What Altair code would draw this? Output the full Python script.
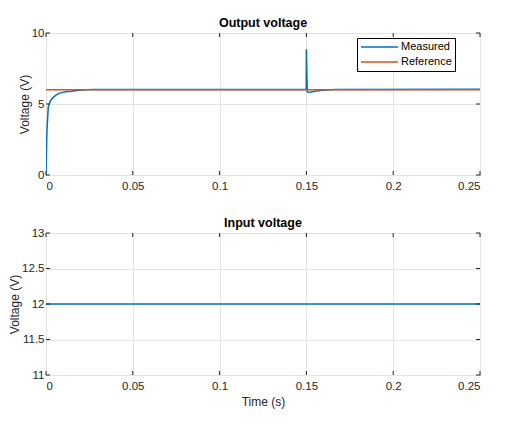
import altair as alt
import pandas as pd

t_meas = [0, 0.0005, 0.0013, 0.0025, 0.0036, 0.0055, 0.0075, 0.0095, 0.0113, 0.015,
          0.019, 0.023, 0.027, 0.1499, 0.15, 0.1505, 0.152, 0.155, 0.158, 0.162, 0.167, 0.25]
v_meas = [0, 3.0, 4.8, 5.2, 5.4, 5.6, 5.75, 5.82, 5.87, 5.9,
          5.97, 6.0, 6.02, 6.02, 8.85, 5.85, 5.83, 5.9, 5.95, 5.98, 6.02, 6.03]
# Reference voltage
t_ref = [0, 0.25]
v_ref = [6, 6]
# Input voltage
t_in = [0, 0.25]
v_in = [12, 12]

x_ticks = [0, 0.05, 0.1, 0.15, 0.2, 0.25]
y_ticks_out = [0, 5, 10]
y_ticks_in = [11, 11.5, 12, 12.5, 13]

series_names = ["Measured", "Reference"]
series_colors = ["#0072BD", "#D95319"]

df_out = pd.concat([
    pd.DataFrame({"t": t_meas, "v": v_meas, "series": "Measured", "order": 0}),
    pd.DataFrame({"t": t_ref, "v": v_ref, "series": "Reference", "order": 1}),
])
df_in = pd.DataFrame({"t": t_in, "v": v_in})

FONT = "Liberation Sans"
W, H = 434, 142
TICK = 4
TXT = "#262626"
LBL = 11.5
TTL = 12

def xaxis(title):
    kw = dict(values=x_ticks, format="~r", grid=True, tickSize=0, labelPadding=5,
              domain=False, labelFontSize=LBL, labelColor=TXT)
    if title:
        return alt.Axis(title=title, titleFontSize=TTL, titleFontWeight="normal",
                        titleColor=TXT, titlePadding=5, **kw)
    return alt.Axis(title=None, **kw)

def yaxis(vals):
    return alt.Axis(title="Voltage (V)", values=vals, format="~r", grid=True, tickSize=0,
                    labelPadding=2, domain=False, labelFontSize=LBL, labelColor=TXT,
                    titleFontSize=TTL, titleFontWeight="normal", titleColor=TXT,
                    titlePadding=0)

def inward_ticks(xs, yvals, xax, yax):
    xsc = alt.Scale(domain=[0, 0.25], nice=False)
    ysc = alt.Scale(domain=[yvals[0], yvals[-1]], nice=False)
    dx = pd.DataFrame({"t": xs})
    dy = pd.DataFrame({"v": yvals})
    bot = alt.Chart(dx).mark_rule(color=TXT, strokeWidth=1).encode(
        x=alt.X("t:Q", scale=xsc, axis=xax), y=alt.value(H), y2=alt.value(H - TICK))
    topk = alt.Chart(dx).mark_rule(color=TXT, strokeWidth=1).encode(
        x=alt.X("t:Q", scale=xsc, axis=xax), y=alt.value(0), y2=alt.value(TICK))
    lft = alt.Chart(dy).mark_rule(color=TXT, strokeWidth=1).encode(
        y=alt.Y("v:Q", scale=ysc, axis=yax), x=alt.value(0), x2=alt.value(TICK))
    rgt = alt.Chart(dy).mark_rule(color=TXT, strokeWidth=1).encode(
        y=alt.Y("v:Q", scale=ysc, axis=yax), x=alt.value(W), x2=alt.value(W - TICK))
    return [bot, topk, lft, rgt]

def title(text):
    return alt.TitleParams(text, fontSize=12.5, fontWeight="bold", offset=-2,
                           color="black", font=FONT)

xa_top = xaxis(None)
ya_top = yaxis(y_ticks_out)
top_lines = alt.Chart(df_out).mark_line(strokeWidth=1.5, clip=True).encode(
    x=alt.X("t:Q", scale=alt.Scale(domain=[0, 0.25], nice=False), axis=xa_top),
    y=alt.Y("v:Q", scale=alt.Scale(domain=[0, 10], nice=False), axis=ya_top),
    color=alt.Color("series:N", scale=alt.Scale(domain=series_names, range=series_colors),
                    legend=alt.Legend(title=None, orient="none", legendX=311, legendY=5,
                                      fillColor="white", strokeColor="black", padding=3,
                                      symbolType="stroke", symbolSize=1369,
                                      symbolStrokeWidth=1.5, labelFontSize=11,
                                      labelColor="black", rowPadding=3, clipHeight=12,
                                      labelOffset=2)),
    order="order:Q",
)

top = alt.layer(top_lines, *inward_ticks(x_ticks, y_ticks_out, xa_top, ya_top)).properties(
    width=W, height=H, title=title("Output voltage"))

xa_bot = xaxis("Time (s)")
ya_bot = yaxis(y_ticks_in)
bottom_line = alt.Chart(df_in).mark_line(strokeWidth=1.5, color="#0072BD").encode(
    x=alt.X("t:Q", scale=alt.Scale(domain=[0, 0.25], nice=False), axis=xa_bot),
    y=alt.Y("v:Q", scale=alt.Scale(domain=[11, 13], nice=False), axis=ya_bot),
)

bottom = alt.layer(bottom_line, *inward_ticks(x_ticks, y_ticks_in, xa_bot, ya_bot)).properties(
    width=W, height=H, title=title("Input voltage"))

chart = alt.vconcat(top, bottom, spacing=24).properties(
    padding={"left": 0, "top": 8, "right": 5, "bottom": 5}
).configure(font=FONT).configure_view(
    stroke="black", strokeWidth=1
).configure_axis(gridColor="#e3e3e3", gridWidth=1)

chart.save("out.html", embed_options={"renderer": "svg", "actions": False})
